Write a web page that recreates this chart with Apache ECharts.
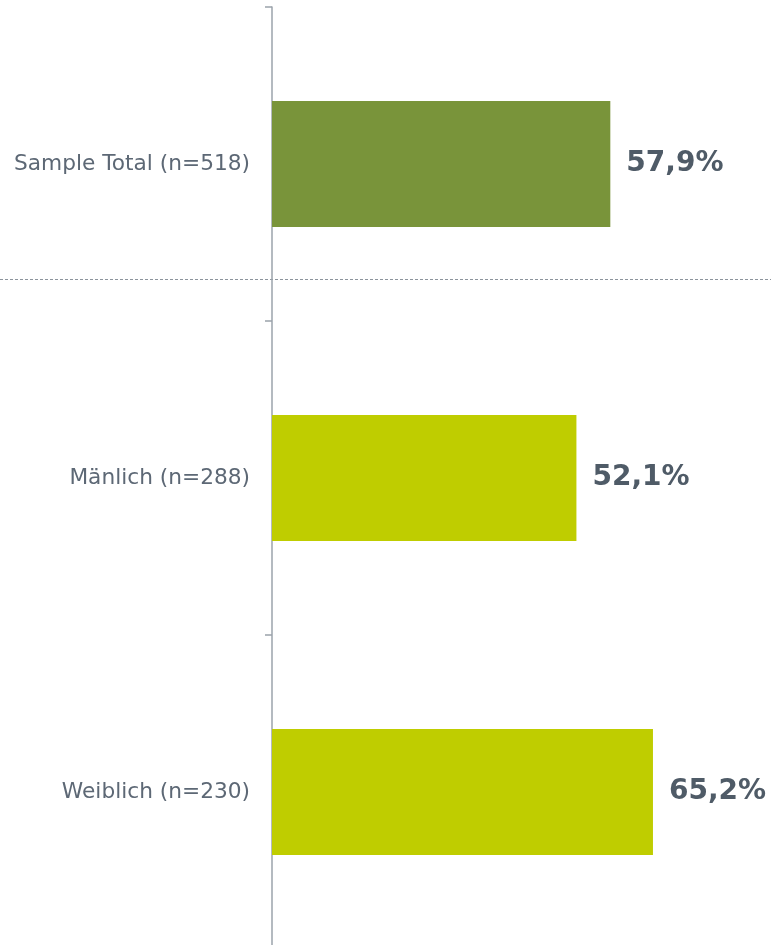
<!DOCTYPE html>
<html>
<head>
<meta charset="utf-8">
<script src="https://cdn.jsdelivr.net/npm/echarts@6/dist/echarts.min.js"></script>
<style>
    html, body { margin: 0; padding: 0; background: #fff; }
    #chart { width: 771px; height: 945px; }
</style>
</head>
<body>
<div id="chart"></div>
<script>
    // data
    const categories = ['Sample Total (n=518)', 'Mänlich (n=288)', 'Weiblich (n=230)'];
    const values = [57.9, 52.1, 65.2];
    const barColors = ['#79943a', '#bfcd00', '#bfcd00'];

    const chart = echarts.init(document.getElementById('chart'));

    chart.setOption({
        animation: false,
        grid: {
            left: 272,
            top: 7,
            right: 0,
            height: 942,
            outerBoundsMode: 'none'
        },
        xAxis: {
            type: 'value',
            min: 0,
            max: 85.4,
            show: false
        },
        yAxis: {
            type: 'category',
            inverse: true,
            data: categories,
            axisLine: {
                lineStyle: {color: '#9ba3ab', width: 1.5}
            },
            axisTick: {
                show: true,
                length: 7,
                lineStyle: {color: '#9ba3ab', width: 1.5}
            },
            axisLabel: {
                margin: 22,
                fontFamily: 'DejaVu Sans',
                fontSize: 21.7,
                color: '#5d6875'
            }
        },
        series: [{
            type: 'bar',
            barWidth: 126,
            data: values.map((v, i) => ({
                value: v,
                itemStyle: {color: barColors[i]}
            })),
            label: {
                show: true,
                position: 'right',
                distance: 16,
                fontFamily: 'DejaVu Sans',
                fontWeight: 'bold',
                fontSize: 28,
                color: '#4f5b67',
                formatter: p => p.value.toFixed(1).replace('.', ',') + '%'
            }
        }],
        graphic: [{
            type: 'line',
            shape: {x1: 0, y1: 279.5, x2: 771, y2: 279.5},
            style: {stroke: '#8c949c', lineWidth: 1, lineDash: [3, 2]}
        }]
    });
</script>
</body>
</html>
